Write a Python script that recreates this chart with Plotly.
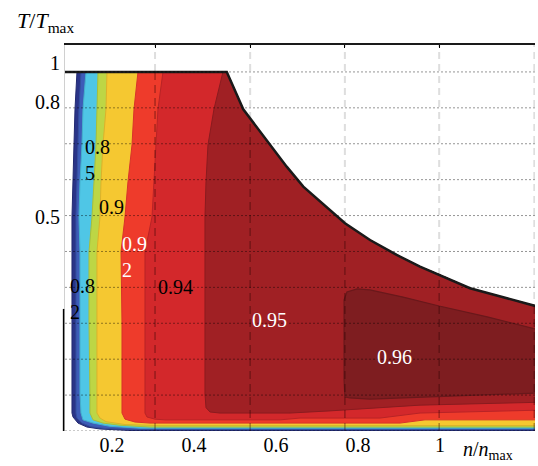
import numpy as np
import plotly.graph_objects as go

# ---------------- data ----------------
# torque envelope T/Tmax vs n/nmax
env_x = [0.0854, 0.480, 0.5202, 0.5854, 0.6261, 0.6666, 0.7073, 0.7683, 0.8293, 0.8944, 0.9512, 1.000, 1.0732, 1.1544, 1.24]
env_y = [1.0, 1.0, 0.896, 0.7967, 0.7362, 0.6805, 0.6387, 0.5785, 0.5320, 0.4903, 0.4577, 0.4345, 0.3975, 0.3724, 0.346]

# efficiency levels and their band colours
eff_levels = [0.80, 0.82, 0.85, 0.88, 0.90, 0.92, 0.94, 0.95, 0.96]
band_colors = ["#2a3488", "#3d5bb8", "#4fc6e6", "#bdd645", "#f5c831",
               "#ee3b2b", "#d3282b", "#a02024", "#7e1d20"]
edge_colors = ["#222a70", "#34509f", "#44b0cc", "#a8bf3a", "#dcb22a",
               "#d8332a", "#b82326", "#8a1b1f", "#6a181b"]

# boundary of the region eff >= level (left edge, top to bottom, then bottom edge to the right)
edge_080_x = [0.1146, 0.1098, 0.1073, 0.1049, 0.1024, 0.1024, 0.1024, 0.1024, 0.1024, 0.1049, 0.1171, 0.1390, 0.1707, 0.2439, 1.24]
edge_080_y = [1.0, 0.897, 0.797, 0.694, 0.596, 0.499, 0.301, 0.103, 0.050, 0.039, 0.022, 0.011, 0.0056, 0.0014, 0.0014]
edge_082_x = [0.1244, 0.1195, 0.1171, 0.1146, 0.1122, 0.1122, 0.1122, 0.1122, 0.1122, 0.1146, 0.1268, 0.1488, 0.1829, 0.2561, 1.24]
edge_082_y = [1.0, 0.897, 0.797, 0.694, 0.596, 0.499, 0.301, 0.103, 0.050, 0.036, 0.022, 0.012, 0.007, 0.004, 0.004]
edge_085_x = [0.1366, 0.1293, 0.1268, 0.1220, 0.1195, 0.1220, 0.1220, 0.1220, 0.1244, 0.1293, 0.1537, 0.1951, 0.2683, 1.24]
edge_085_y = [1.0, 0.897, 0.797, 0.694, 0.596, 0.499, 0.301, 0.103, 0.050, 0.031, 0.022, 0.013, 0.008, 0.008]
edge_088_x = [0.1659, 0.1634, 0.1610, 0.1561, 0.1512, 0.1439, 0.1439, 0.1463, 0.1463, 0.1537, 0.1780, 0.2195, 0.2927, 1.24]
edge_088_y = [1.0, 0.897, 0.797, 0.694, 0.596, 0.499, 0.301, 0.103, 0.050, 0.031, 0.022, 0.016, 0.011, 0.011]
edge_090_x = [0.1878, 0.1854, 0.1780, 0.1732, 0.1707, 0.1634, 0.1634, 0.1634, 0.1634, 0.1707, 0.1854, 0.2317, 0.3171, 1.24]
edge_090_y = [1.0, 0.897, 0.797, 0.694, 0.596, 0.499, 0.301, 0.103, 0.050, 0.036, 0.026, 0.018, 0.015, 0.015]
edge_092_x = [0.2634, 0.2537, 0.2488, 0.2390, 0.2317, 0.2220, 0.2244, 0.2244, 0.2244, 0.2317, 0.2561, 0.2927, 0.9024, 0.9634, 1.24]
edge_092_y = [1.0, 0.897, 0.797, 0.694, 0.596, 0.499, 0.301, 0.103, 0.050, 0.033, 0.025, 0.022, 0.022, 0.031, 0.031]
edge_094_x = [0.3244, 0.3122, 0.3073, 0.3024, 0.2976, 0.2805, 0.2805, 0.2805, 0.2805, 0.2854, 0.3049, 0.3293, 0.6098, 0.6585, 0.8537, 0.9512, 1.24]
edge_094_y = [1.0, 0.897, 0.797, 0.694, 0.596, 0.499, 0.301, 0.103, 0.050, 0.039, 0.033, 0.031, 0.031, 0.036, 0.036, 0.050, 0.058]
edge_095_x = [0.4707, 0.4488, 0.4341, 0.4293, 0.4268, 0.4268, 0.4268, 0.4268, 0.4293, 0.4390, 0.4634, 0.6341, 0.7317, 0.9512, 1.24]
edge_095_y = [1.0, 0.897, 0.797, 0.694, 0.596, 0.499, 0.301, 0.103, 0.065, 0.053, 0.050, 0.050, 0.056, 0.072, 0.080]
# closed island eff >= 0.96
edge_096_x = [0.768, 0.766, 0.766, 0.773, 0.798, 0.829, 0.910, 0.998, 1.115, 1.24, 1.24, 0.998, 0.829, 0.780, 0.768]
edge_096_y = [0.095, 0.142, 0.365, 0.387, 0.396, 0.393, 0.373, 0.348, 0.318, 0.282, 0.106, 0.095, 0.089, 0.092, 0.095]

# contour labels
label_text = ["0.8<br>2", "0.8<br>5", "0.9", "0.9<br>2", "0.94", "0.95", "0.96"]
label_x = [0.0927, 0.129, 0.200, 0.2195, 0.356, 0.583, 0.890]
label_y = [0.368, 0.755, 0.624, 0.485, 0.401, 0.309, 0.206]
label_color = ["black", "black", "black", "white", "black", "white", "white"]
label_anchor = ["left", "left", "center", "left", "center", "center", "center"]

# axes
x_tick_vals = [0.2, 0.4, 0.6, 0.8, 1.0]
x_tick_text = ["0.2", "0.4", "0.6", "0.8", "1"]
y_tick_vals = [1.025, 0.916, 0.596]
y_tick_text = ["1", "0.8", "0.5"]
grid_x = [0.305, 0.537, 0.768, 0.998, 1.230]
grid_y = [0.0, 0.1, 0.2, 0.3, 0.4, 0.5, 0.6, 0.7, 0.8, 0.9, 1.0]
x_range = [0.0854, 1.2317]
y_range = [0.0, 1.075]
left_axis_dark_top = 0.34   # the left axis is drawn black only below this height

FONT = '"Liberation Serif", "Times New Roman", "DejaVu Serif", serif'

fig = go.Figure()

open_edges = [(edge_080_x, edge_080_y), (edge_082_x, edge_082_y), (edge_085_x, edge_085_y),
              (edge_088_x, edge_088_y), (edge_090_x, edge_090_y), (edge_092_x, edge_092_y),
              (edge_094_x, edge_094_y), (edge_095_x, edge_095_y)]

for i, (ex, ey) in enumerate(open_edges):
    top_x = ex[0]
    ev = [(a, b) for a, b in zip(env_x, env_y) if a > top_x][::-1]
    px = list(ex) + [p[0] for p in ev] + [ex[0]]
    py = list(ey) + [p[1] for p in ev] + [ey[0]]
    fig.add_trace(go.Scatter(x=px, y=py, mode="lines", fill="toself",
                             fillcolor=band_colors[i],
                             line=dict(color=edge_colors[i], width=1),
                             hoverinfo="skip", name=f"η ≥ {eff_levels[i]}"))

fig.add_trace(go.Scatter(x=edge_096_x, y=edge_096_y, mode="lines", fill="toself",
                         fillcolor=band_colors[8], line=dict(color=edge_colors[8], width=1.2),
                         hoverinfo="skip", name="η ≥ 0.96"))

# envelope
fig.add_trace(go.Scatter(x=env_x, y=env_y, mode="lines",
                         line=dict(color="#1a1a1a", width=2.5),
                         hoverinfo="skip", name="Tmax"))

shapes = []
for gx in grid_x:
    shapes.append(dict(type="line", xref="x", yref="y", x0=gx, x1=gx, y0=y_range[0], y1=y_range[1],
                       layer="below", line=dict(color="#dedede", width=2, dash="7px,5px")))
    top = float(np.interp(gx, env_x, env_y))
    shapes.append(dict(type="line", xref="x", yref="y", x0=gx, x1=gx, y0=0, y1=top,
                       layer="above", line=dict(color="rgba(40,0,0,0.33)", width=1.6, dash="8px,5px")))
for gy in grid_y:
    shapes.append(dict(type="line", xref="x domain", yref="y", x0=0, x1=1, y0=gy, y1=gy,
                       layer="above", line=dict(color="rgba(0,0,0,0.42)", width=1, dash="2px,2px")))
# dark lower part of the left axis line
shapes.append(dict(type="line", xref="x domain", yref="y", x0=-0.003, x1=-0.003,
                   y0=y_range[0], y1=left_axis_dark_top, layer="above",
                   line=dict(color="black", width=1.5)))

annotations = []
for t, x, y, c, a in zip(label_text, label_x, label_y, label_color, label_anchor):
    annotations.append(dict(text=t, x=x, y=y, xref="x", yref="y", showarrow=False,
                            xanchor=a, yanchor="middle", align="left",
                            font=dict(family=FONT, size=20, color=c)))
# axis titles (paper coords are relative to the plot area)
annotations.append(dict(text="<i>T</i>/<i>T</i><sub>max</sub>", xref="paper", yref="paper",
                        x=-0.106, y=1.06, xanchor="left", yanchor="middle",
                        showarrow=False, font=dict(family=FONT, size=22, color="black")))
annotations.append(dict(text="<i>n</i>/<i>n</i><sub>max</sub>", xref="paper", yref="paper",
                        x=0.8426, y=-0.05, xanchor="left", yanchor="middle",
                        showarrow=False, font=dict(family=FONT, size=20, color="black")))

fig.update_layout(
    width=538, height=466,
    margin=dict(l=65, r=3, t=45, b=35),
    paper_bgcolor="white", plot_bgcolor="white",
    showlegend=False,
    font=dict(family=FONT),
    shapes=shapes, annotations=annotations,
    xaxis=dict(range=x_range, tickvals=x_tick_vals, ticktext=x_tick_text,
               showgrid=False, zeroline=False, showline=False, ticks="",
               tickfont=dict(family=FONT, size=20, color="black")),
    xaxis2=dict(range=x_range, overlaying="x", side="top", showline=True,
                linecolor="#1a1a1a", linewidth=1.5, ticks="inside", ticklen=3,
                tickcolor="black", tickvals=grid_x, showticklabels=False,
                showgrid=False, zeroline=False),
    yaxis=dict(range=y_range, tickvals=y_tick_vals, ticktext=y_tick_text,
               showgrid=False, zeroline=False, showline=True, linecolor="#d0d0d0",
               linewidth=1, ticks="",
               tickfont=dict(family=FONT, size=20, color="black")),
)
fig.add_trace(go.Scatter(x=[x_range[0]], y=[y_range[0]], xaxis="x2", mode="markers",
                         marker=dict(opacity=0), hoverinfo="skip", showlegend=False))

fig.write_html("out.html")
